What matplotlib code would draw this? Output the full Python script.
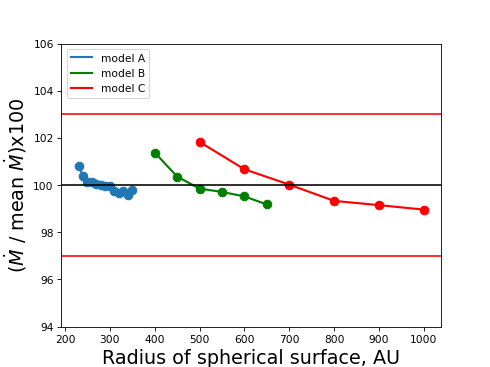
import matplotlib
matplotlib.use("Agg")
import matplotlib.pyplot as plt
from matplotlib.lines import Line2D

radius_a = [230, 240, 250, 260, 270, 280, 290, 300, 310, 320, 330, 340, 350]
ratio_a = [100.82, 100.38, 100.15, 100.15, 100.05, 100.02, 99.95, 99.95, 99.75, 99.66, 99.74, 99.58, 99.8]
radius_b = [400, 450, 500, 550, 600, 650]
ratio_b = [101.38, 100.36, 99.85, 99.71, 99.52, 99.18]
radius_c = [500, 600, 700, 800, 900, 1000]
ratio_c = [101.83, 100.67, 100.02, 99.33, 99.15, 98.96]
labels = ["model A", "model B", "model C"]
colors = ['tab:blue', 'green', 'red']

fig, ax = plt.subplots(figsize=(6.4, 4.8), dpi=76.5625)
for xs, ys, c in zip([radius_a, radius_b, radius_c], [ratio_a, ratio_b, ratio_c], colors):
    ax.plot(xs, ys, 'o-', color=c, lw=2, ms=8)
ax.axhline(100, color='black', lw=1.5)
ax.axhline(103, color='red', lw=1.5)
ax.axhline(97, color='red', lw=1.5)
ax.set_ylim(94, 106)
ax.set_xlabel("Radius of spherical surface, AU", fontsize=18)
ax.set_ylabel(r"($\dot{M}$ / mean $\dot{M}$)x100", fontsize=18)
handles = [Line2D([], [], color=c, lw=2) for c in colors]
ax.legend(handles, labels, loc='upper left', fontsize=10)
fig.savefig("out.png")
